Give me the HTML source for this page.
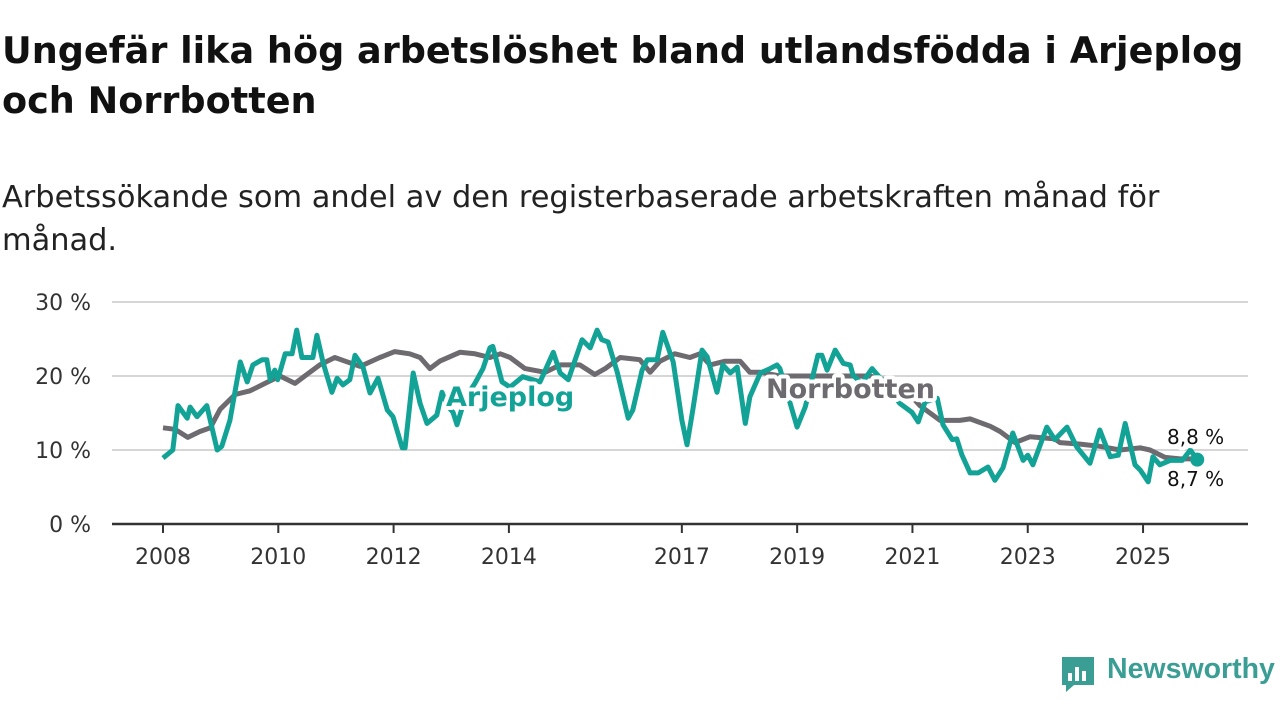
<!DOCTYPE html>
<html><head><meta charset="utf-8">
<style>
body{margin:0;width:1280px;height:720px;background:#fff;font-family:"Liberation Sans",sans-serif;overflow:hidden;position:relative}
h1{position:absolute;left:2px;top:26px;margin:0;font-size:36.6px;line-height:50px;font-weight:bold;color:#111;font-family:"DejaVu Sans","Liberation Sans",sans-serif;letter-spacing:0px}
.sub{position:absolute;left:2px;top:176px;font-size:30.4px;line-height:43px;color:#222;font-family:"DejaVu Sans","Liberation Sans",sans-serif;letter-spacing:0px}
svg{position:absolute;left:0;top:0}
.logo{position:absolute;left:1060px;top:655px}
.logo span{position:absolute;left:47px;top:-2px;font-size:28.5px;font-weight:bold;color:#3a9e95;font-family:"Liberation Sans",sans-serif}
</style></head><body>
<h1>Ungefär lika hög arbetslöshet bland utlandsfödda i Arjeplog<br>och Norrbotten</h1>
<div class="sub">Arbetssökande som andel av den registerbaserade arbetskraften månad för<br>månad.</div>
<svg id="chart" width="1280" height="720"></svg>
<div class="logo">
<svg width="36" height="38" style="position:static"><path d="M2 2h32v28H14l-8 7v-7H2z" fill="#3a9e95"/><rect x="8" y="18" width="4" height="8" fill="#fff"/><rect x="15" y="12" width="4" height="14" fill="#fff"/><rect x="22" y="16" width="4" height="10" fill="#fff"/></svg>
<span>Newsworthy</span></div>
<script>
const yTicks=[0,10,20,30];
const xTicks=[2008,2010,2012,2014,2017,2019,2021,2023,2025];
const norrDates=[2008.00,2008.21,2008.43,2008.64,2008.82,2008.99,2009.25,2009.51,2009.77,2010.03,2010.29,2010.46,2010.72,2010.98,2011.16,2011.42,2011.76,2012.02,2012.28,2012.46,2012.63,2012.80,2013.15,2013.41,2013.67,2013.85,2014.02,2014.28,2014.63,2014.89,2015.23,2015.49,2015.67,2015.93,2016.27,2016.45,2016.62,2016.88,2017.14,2017.31,2017.49,2017.75,2018.01,2018.18,2018.36,2018.70,2019.40,2020.26,2020.78,2021.13,2021.48,2021.82,2022.00,2022.35,2022.52,2022.78,2023.04,2023.47,2023.56,2023.91,2024.25,2024.60,2024.95,2025.12,2025.38,2025.64,2025.94];
const norrValues=[13.0,12.8,11.7,12.5,13,15.5,17.5,18,19,20,19,20,21.5,22.5,22,21.3,22.5,23.3,23,22.5,21,22,23.2,23,22.5,23,22.5,21,20.5,21.5,21.5,20.2,21,22.5,22.2,20.5,22,23,22.5,23,21.5,22,22,20.5,20.5,20,20,20,19,16,14,14,14.2,13.2,12.5,11,11.8,11.5,11,10.8,10.5,10,10.3,10,9,8.8,8.8];
const arjDates=[2008.00,2008.17,2008.26,2008.42,2008.47,2008.59,2008.76,2008.94,2009.02,2009.16,2009.34,2009.46,2009.56,2009.72,2009.80,2009.86,2009.94,2009.99,2010.12,2010.24,2010.32,2010.41,2010.60,2010.67,2010.78,2010.93,2011.02,2011.12,2011.24,2011.33,2011.47,2011.59,2011.73,2011.89,2011.99,2012.15,2012.20,2012.34,2012.46,2012.58,2012.75,2012.84,2012.93,2013.03,2013.10,2013.24,2013.41,2013.55,2013.67,2013.72,2013.88,2014.02,2014.24,2014.54,2014.77,2014.89,2015.03,2015.27,2015.41,2015.53,2015.61,2015.72,2015.88,2016.07,2016.15,2016.31,2016.40,2016.57,2016.67,2016.85,2017.00,2017.09,2017.19,2017.35,2017.44,2017.61,2017.71,2017.84,2017.96,2018.10,2018.18,2018.36,2018.53,2018.65,2018.70,2018.88,2019.00,2019.14,2019.36,2019.43,2019.52,2019.66,2019.80,2019.92,2019.97,2020.12,2020.30,2020.52,2020.78,2020.99,2021.10,2021.22,2021.43,2021.53,2021.69,2021.77,2021.86,2022.00,2022.14,2022.31,2022.43,2022.57,2022.74,2022.92,2023.00,2023.09,2023.33,2023.47,2023.68,2023.85,2024.08,2024.25,2024.43,2024.57,2024.69,2024.86,2024.95,2025.09,2025.17,2025.29,2025.47,2025.68,2025.82,2025.94];
const arjValues=[8.9,10,16,14.3,15.8,14.5,16,10,10.5,14,21.9,19.2,21.5,22.2,22.2,19.5,20.8,19.5,23,23,26.2,22.5,22.5,25.5,21.7,17.8,19.7,18.8,19.5,22.8,21.2,17.7,19.7,15.4,14.5,10.3,10.3,20.4,16.3,13.6,14.7,17.8,16,15.1,13.4,17,19,21,23.8,24,19.2,18.5,19.9,19.2,23.2,20.4,19.5,24.9,23.8,26.2,24.9,24.6,20.5,14.3,15.4,20.8,22.2,22.2,25.9,21.9,14,10.7,15.4,23.5,22.6,17.8,21.5,20.4,21.2,13.6,17.2,20.4,21,21.5,21,16.3,13.1,15.8,22.8,22.8,20.8,23.5,21.7,21.5,20.1,19,21,19,16.3,15.1,13.8,16.5,17,13.4,11.4,11.5,9.3,6.9,6.9,7.7,5.9,7.6,12.3,8.6,9.3,8,13.1,11.4,13.1,10.4,8.2,12.7,9.1,9.3,13.6,8,7.3,5.7,9.1,8,8.6,8.6,10,8.7];
const NS='http://www.w3.org/2000/svg';
const svg=document.getElementById('chart');
const X=d=>163+(d-2008)*57.65;
const Y=v=>524-v*7.4;
function mk(tag,attrs,parent){const e=document.createElementNS(NS,tag);for(const k in attrs)e.setAttribute(k,attrs[k]);(parent||svg).appendChild(e);return e;}
yTicks.forEach(t=>{
  if(t>0){const g=mk('line',{x1:112,x2:1248,y1:Y(t),y2:Y(t),stroke:'#d6d6d6','stroke-width':2});
  
  }
  const tx=mk('text',{x:91,y:Y(t)+8,'text-anchor':'end','font-size':22,fill:'#333','font-family':'DejaVu Sans, Liberation Sans, sans-serif'});
  tx.textContent=t+' %';
  
  
});
const ax=mk('line',{x1:112,x2:1248,y1:524,y2:524,stroke:'#333','stroke-width':2.5});


xTicks.forEach(t=>{
  const tk=mk('line',{x1:X(t),x2:X(t),y1:524,y2:533,stroke:'#333','stroke-width':2});
  
  
  const tx=mk('text',{x:X(t),y:564,'text-anchor':'middle','font-size':22,fill:'#333','font-family':'DejaVu Sans, Liberation Sans, sans-serif'});
  tx.textContent=t;
  
  
});
function path(ds,vs){return ds.map((d,i)=>(i?'L':'M')+X(d).toFixed(1)+' '+Y(vs[i]).toFixed(1)).join(' ');}
const pn=mk('path',{d:path(norrDates,norrValues),fill:'none',stroke:'#6d6b70','stroke-width':5,'stroke-linejoin':'round'});


const pa=mk('path',{d:path(arjDates,arjValues),fill:'none',stroke:'#13a396','stroke-width':5,'stroke-linejoin':'round'});


const la=norrDates.length-1, lb=arjDates.length-1;
const dn=mk('circle',{cx:X(norrDates[la]),cy:Y(norrValues[la]),r:6,fill:'#6d6b70'});


const da=mk('circle',{cx:X(arjDates[lb]),cy:Y(arjValues[lb]),r:7,fill:'#13a396'});


function label(txt,x,y,size,fill,weight,name){
  const t=mk('text',{x:x,y:y,'font-size':size,fill:fill,'font-weight':weight,stroke:'#fff','stroke-width':8,'paint-order':'stroke','stroke-linejoin':'round','font-family':'DejaVu Sans, Liberation Sans, sans-serif'});
  t.textContent=txt;
  
  
}
label('Arjeplog',446,406,27,'#13a396','bold','arjeplog-series-label');
label('Norrbotten',766,398,27,'#6d6b70','bold','norrbotten-series-label');
label(String(norrValues[la]).replace('.',',')+' %',1167,444,20,'#111','normal','norrbotten-end-value');
label(String(arjValues[lb]).replace('.',',')+' %',1167,486,20,'#111','normal','arjeplog-end-value');
</script>
</body></html>
